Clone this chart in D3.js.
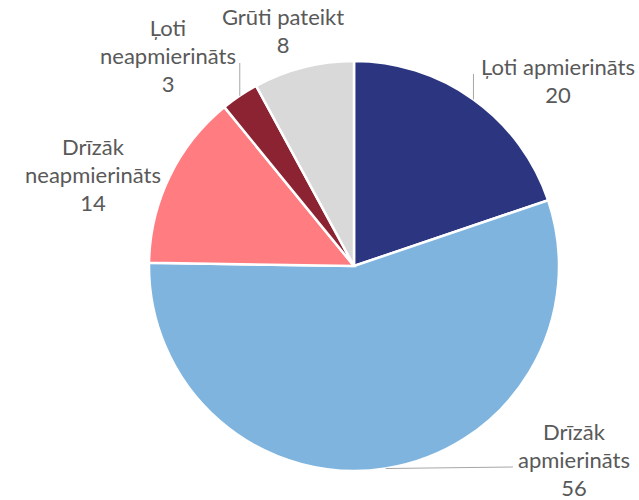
<!DOCTYPE html>
<html>
<head>
<meta charset="utf-8">
<script src="https://cdn.jsdelivr.net/npm/d3@7"></script>
<style>
  body { margin: 0; background: #fff; }
  svg { display: block; }
</style>
</head>
<body>
<div id="chart"></div>
<script>
'use strict';

var categories = ['Ļoti apmierināts', 'Drīzāk apmierināts', 'Drīzāk neapmierināts', 'Ļoti neapmierināts', 'Grūti pateikt'],
    values = [20, 56, 14, 3, 8],
    labelLines = [['Ļoti apmierināts'], ['Drīzāk', 'apmierināts'], ['Drīzāk', 'neapmierināts'], ['Ļoti', 'neapmierināts'], ['Grūti pateikt']],
    colors = ['#2B3580', '#7FB4DE', '#FF7C80', '#8C2332', '#D9D9D9'];

// label block: centre x and first baseline relative to the pie centre, leader style
var labelLayout = [
    { dx: 204, dy: -191, leader: 'up' },
    { dx: 220, dy: 174, leader: 'side' },
    { dx: -261, dy: -111, leader: null },
    { dx: -186, dy: -230, leader: 'up' },
    { dx: -71, dy: -241, leader: null }
];

var width = 639,
    height = 500,
    cx = 354,
    cy = 266,
    radius = 205,
    lineHeight = 28,
    svg = d3.select('#chart').append('svg').attr('width', width).attr('height', height),
    g = svg.append('g').attr('transform', 'translate(' + cx + ',' + cy + ')');

var data = categories.map(function (c, i) {
    return { name: c, value: values[i], idx: i };
});

var pie = d3.pie().sort(null).value(function (d) { return d.value; }),
    arc = d3.arc().innerRadius(0).outerRadius(radius),
    arcs = pie(data);

g.selectAll('path.slice').data(arcs).enter().append('path')
    .attr('class', 'slice')
    .attr('d', arc)
    .style('fill', function (d) { return colors[d.data.idx]; })
    .style('stroke', '#fff')
    .style('stroke-width', 2.5);

var leaders = g.append('g'),
    labels = g.append('g');

arcs.forEach(function (d) {
    var lay = labelLayout[d.data.idx],
        names = labelLines[d.data.idx],
        lines = names.concat([String(d.data.value)]);

    var t = labels.append('text')
        .attr('text-anchor', 'middle')
        .style('font-family', 'Lato, "Open Sans", sans-serif')
        .style('font-size', '22px')
        .style('fill', '#595959');
    var spans = lines.map(function (l, j) {
        return t.append('tspan')
            .attr('x', lay.dx)
            .attr('y', lay.dy + j * lineHeight)
            .text(l);
    });

    if (!lay.leader) return;
    var mid = (d.startAngle + d.endAngle) / 2,
        x0 = Math.sin(mid) * radius,
        y0 = -Math.cos(mid) * radius,
        lastY = lay.dy + (names.length - 1) * lineHeight,
        pts;
    if (lay.leader === 'up') {
        pts = [[x0, y0], [x0, lastY - 1]];
    } else {
        var w = spans[names.length - 1].node().getComputedTextLength();
        pts = [[x0, y0], [lay.dx - w / 2 - 5, lastY - 1]];
    }
    leaders.append('path')
        .attr('d', d3.line()(pts))
        .style('fill', 'none')
        .style('stroke', '#A6A6A6')
        .style('stroke-width', 1);
});
</script>
</body>
</html>
